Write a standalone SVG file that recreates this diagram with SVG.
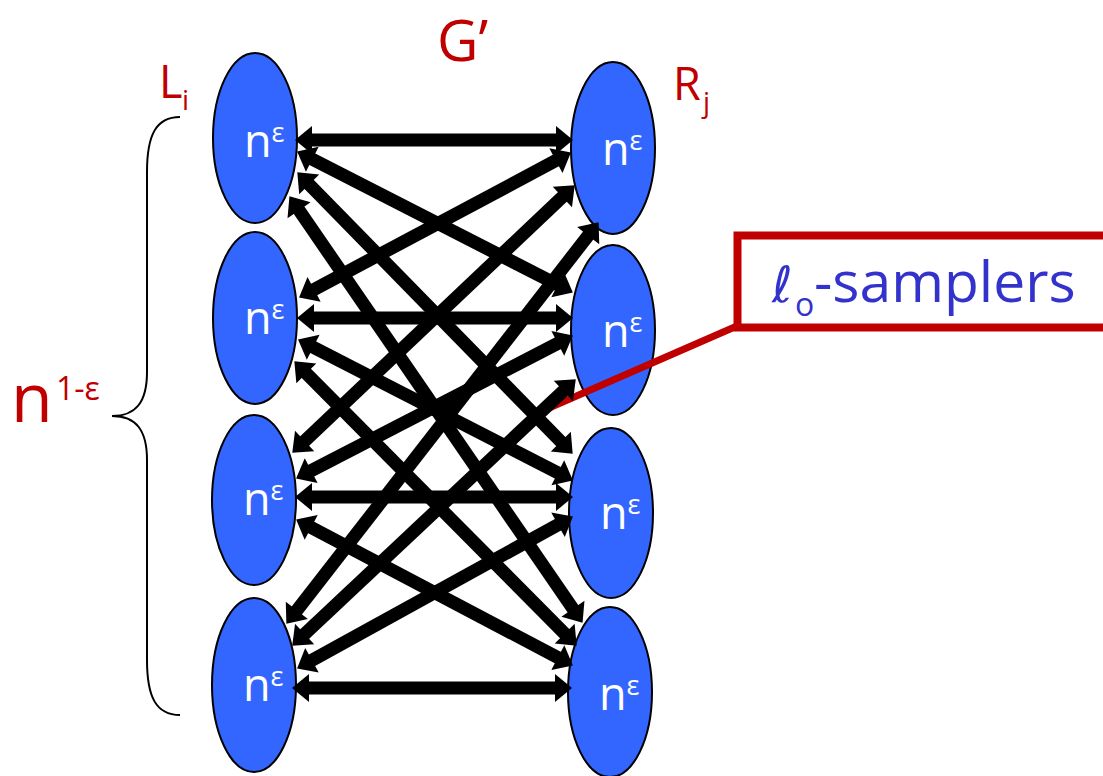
<svg xmlns="http://www.w3.org/2000/svg" width="1103" height="776" viewBox="0 0 1103 776">
<style>
.nd{fill:#3366FF;stroke:#000;stroke-width:2}
.nt{fill:#fff;font-family:"Open Sans","Liberation Sans",sans-serif;font-size:45px}
.sp{font-size:27px}
.lb{fill:#C00000;font-family:"Open Sans","Liberation Sans",sans-serif}
.c{stroke:#000;stroke-width:13;fill:none;marker-start:url(#ah);marker-end:url(#ah)}
</style>
<defs>
<marker id="ah" markerUnits="userSpaceOnUse" viewBox="-2 -15 19 30" markerWidth="19" markerHeight="30" refX="0" refY="0" orient="auto-start-reverse">
<path d="M-1,-14 L16,0 L-1,14 Z" fill="#000"/>
</marker>
</defs>
<rect width="1103" height="776" fill="#fff"/>

<g id="labels">
<text class="lb" x="437" y="61" font-size="57">G’</text>
<text class="lb" x="159" y="98" font-size="45">L<tspan x="182" y="110" font-size="28">i</tspan></text>
<text class="lb" x="673" y="100" font-size="45">R<tspan x="703" y="112" font-size="28">j</tspan></text>
<text class="lb" x="11" y="422" font-size="68">n<tspan x="56" y="400" font-size="32">1-ε</tspan></text>
</g>

<g id="brace">
<path d="M180,117 C156,117 147,135 147,172 L147,372 C147,402 136,416 112,416 C136,416 147,430 147,460 L147,660 C147,697 156,715 180,715" fill="none" stroke="#000" stroke-width="2"/>
</g>

<g id="L1"><ellipse class="nd" cx="255" cy="138" rx="42" ry="85"/><text class="nt" x="244" y="157">n<tspan class="sp" dy="-15">ε</tspan></text></g>
<g id="L2"><ellipse class="nd" cx="255" cy="318" rx="42" ry="86"/><text class="nt" x="244" y="334">n<tspan class="sp" dy="-15">ε</tspan></text></g>
<g id="L3"><ellipse class="nd" cx="254" cy="500" rx="42" ry="85"/><text class="nt" x="243" y="515">n<tspan class="sp" dy="-15">ε</tspan></text></g>
<g id="L4"><ellipse class="nd" cx="254" cy="685" rx="42" ry="87"/><text class="nt" x="243" y="701">n<tspan class="sp" dy="-15">ε</tspan></text></g>
<g id="R1"><ellipse class="nd" cx="613" cy="148" rx="42" ry="86"/><text class="nt" x="602" y="165">n<tspan class="sp" dy="-15">ε</tspan></text></g>
<g id="R2"><ellipse class="nd" cx="613" cy="330" rx="42" ry="85"/><text class="nt" x="602" y="347">n<tspan class="sp" dy="-15">ε</tspan></text></g>
<g id="R3"><ellipse class="nd" cx="611" cy="513" rx="42" ry="85"/><text class="nt" x="600" y="529">n<tspan class="sp" dy="-15">ε</tspan></text></g>
<g id="R4"><ellipse class="nd" cx="610" cy="692" rx="42" ry="85"/><text class="nt" x="599" y="710">n<tspan class="sp" dy="-15">ε</tspan></text></g>

<g id="callout">
<line x1="549" y1="408" x2="737" y2="326" stroke="#C00000" stroke-width="7"/>
<rect x="737.5" y="235.5" width="420" height="92" fill="#fff" stroke="#C00000" stroke-width="8"/>
<text y="302" fill="#3333CC" font-family="Open Sans, Liberation Sans, sans-serif" font-size="57"><tspan x="772" font-family="DejaVu Sans, sans-serif" font-style="italic" font-size="50">ℓ</tspan><tspan x="795" font-size="32" y="316">o</tspan><tspan x="814" y="302">-samplers</tspan></text>
</g>

<g id="connectors">
<line class="c" x1="311" y1="140" x2="557" y2="140"/>
<line class="c" x1="311.4" y1="158.8" x2="558.6" y2="285.2"/>
<line class="c" x1="308.5" y1="183.7" x2="561.5" y2="442.3"/>
<line class="c" x1="298.5" y1="209.4" x2="573.5" y2="609.6"/>
<line class="c" x1="313.2" y1="289.9" x2="556.8" y2="160.1"/>
<line class="c" x1="313" y1="318" x2="557" y2="318"/>
<line class="c" x1="312.3" y1="346.8" x2="558.7" y2="473.2"/>
<line class="c" x1="305.6" y1="372.6" x2="565.4" y2="634.4"/>
<line class="c" x1="303.9" y1="441.7" x2="563.1" y2="196.3"/>
<line class="c" x1="310.3" y1="471.1" x2="558.7" y2="342.9"/>
<line class="c" x1="311" y1="497" x2="557" y2="497"/>
<line class="c" x1="310.3" y1="527" x2="558.7" y2="658"/>
<line class="c" x1="296.2" y1="611.2" x2="588.8" y2="234.8"/>
<line class="c" x1="303.9" y1="634.7" x2="564.1" y2="390.3"/>
<line class="c" x1="311.1" y1="660.8" x2="558.9" y2="524.2"/>
<line class="c" x1="308" y1="688" x2="556" y2="688"/>
</g>
</svg>
